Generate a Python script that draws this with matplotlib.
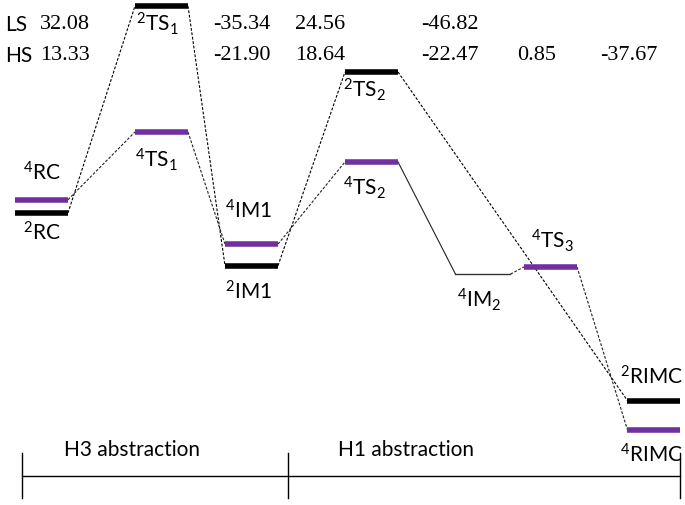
import matplotlib
matplotlib.use("Agg")
import matplotlib.pyplot as plt

plt.rcParams['mathtext.fontset'] = 'custom'
plt.rcParams['mathtext.rm'] = 'Lato'
plt.rcParams['mathtext.it'] = 'Lato'

PURPLE = '#7030a0'

# stage x-centres (diagram units) and energies (relative)
stages = ['RC', 'TS1', 'IM1', 'TS2', 'IM2', 'TS3', 'RIMC']
stage_x = [41.5, 161.5, 251.5, 371.5, 483, 550.5, 654]
half_w = 26.5

# low spin (doublet) levels
ls_stage = ['RC', 'TS1', 'IM1', 'TS2', 'RIMC']
ls_energy = [0.0, 34.5, -8.8, 23.5, -31.3]
# high spin (quartet) levels
hs_stage = ['RC', 'TS1', 'IM1', 'TS2', 'IM2', 'TS3', 'RIMC']
hs_energy = [2.2, 13.5, -5.2, 8.5, -10.2, -9.0, -36.2]

ls_labels = [r'$^{2}$RC', r'$^{2}$TS$_{1}$', r'$^{2}$IM1', r'$^{2}$TS$_{2}$', r'$^{2}$RIMC']
hs_labels = [r'$^{4}$RC', r'$^{4}$TS$_{1}$', r'$^{4}$IM1', r'$^{4}$TS$_{2}$',
             r'$^{4}$IM$_{2}$', r'$^{4}$TS$_{3}$', r'$^{4}$RIMC']
# label offsets (dx in diagram units, dy in energy units)
ls_lab_dx = [0, -4, -3, -7, -2]
ls_lab_dy = [-3.4, -2.9, -4.3, -3.0, 3.9]
hs_lab_dx = [0, -5, -3, -7, -4, 2, -2]
hs_lab_dy = [4.5, -4.6, 5.5, -4.3, -4.3, 4.4, -4.1]

# connections (stage pairs) per spin state
ls_links = [('RC', 'TS1'), ('TS1', 'IM1'), ('IM1', 'TS2'), ('TS2', 'RIMC')]
hs_links = [('RC', 'TS1', '--'), ('TS1', 'IM1', '--'), ('IM1', 'TS2', '--'),
            ('TS2', 'IM2', '-'), ('IM2', 'TS3', '--'), ('TS3', 'RIMC', '--')]

# numbers at top
ls_values = ['32.08', '-35.34', '24.56', '-46.82']
ls_val_x = [40, 213, 295, 421]
hs_values = ['13.33', '-21.90', '18.64', '-22.47', '0.85', '-37.67']
hs_val_x = [40, 213, 295, 421, 517, 600]

sections = ['H3 abstraction', 'H1 abstraction']
section_edges = [22, 288, 680]
section_label_x = [132, 406]

xpos = dict(zip(stages, stage_x))
ls_e = dict(zip(ls_stage, ls_energy))
hs_e = dict(zip(hs_stage, hs_energy))

fig = plt.figure(figsize=(6.85, 5.05), dpi=100)
ax = fig.add_axes([0, 0, 1, 1])
ax.set_xlim(0, 685)
ax.set_ylim(-48.7, 35.5)
ax.axis('off')

def px_to_e(py):
    return 35.5 - py / 6.0

# levels
for s, e, lab, dx, dy in zip(ls_stage, ls_energy, ls_labels, ls_lab_dx, ls_lab_dy):
    x = xpos[s]
    ax.plot([x - half_w, x + half_w], [e, e], color='black', lw=4.0, solid_capstyle='butt', zorder=3)
    ax.text(x + dx, e + dy, lab, ha='center', va='center', fontsize=15, family='Lato')

for s, e, lab, dx, dy in zip(hs_stage, hs_energy, hs_labels, hs_lab_dx, hs_lab_dy):
    x = xpos[s]
    if s == 'IM2':
        ax.plot([x - half_w - 1, x + half_w + 1], [e, e], color='#333333', lw=1.0, zorder=3)
    else:
        ax.plot([x - half_w, x + half_w], [e, e], color=PURPLE, lw=4.0, solid_capstyle='butt', zorder=3)
    ax.text(x + dx, e + dy, lab, ha='center', va='center', fontsize=15, family='Lato')

# connectors
for a, b in ls_links:
    ax.plot([xpos[a] + half_w, xpos[b] - half_w], [ls_e[a], ls_e[b]],
            color='black', lw=0.8, ls=(0, (2.5, 1.5)), zorder=2)
for a, b, st in hs_links:
    style = (0, (2.5, 1.5)) if st == '--' else '-'
    ax.plot([xpos[a] + half_w + (1 if a == 'IM2' else 0), xpos[b] - half_w - (1 if b == 'IM2' else 0)],
            [hs_e[a], hs_e[b]], color='#222222', lw=0.8, ls=style, zorder=2)

# top numbers
ytop_ls = px_to_e(25)
ytop_hs = px_to_e(56)
ax.text(5, ytop_ls, 'LS', ha='left', va='center', fontsize=15, family='Lato')
ax.text(5, ytop_hs, 'HS', ha='left', va='center', fontsize=15, family='Lato')
for v, x in zip(ls_values, ls_val_x):
    ax.text(x, ytop_ls, v, ha='left', va='center', fontsize=16, family='Liberation Serif')
for v, x in zip(hs_values, hs_val_x):
    ax.text(x, ytop_hs, v, ha='left', va='center', fontsize=16, family='Liberation Serif')

# bottom section axis
y_axis = px_to_e(476)
ax.plot([section_edges[0], section_edges[-1]], [y_axis, y_axis], color='black', lw=1.0)
for x in section_edges:
    ax.plot([x, x], [y_axis + 3.8, y_axis - 3.7], color='black', lw=1.0)
for name, xc in zip(sections, section_label_x):
    ax.text(xc, px_to_e(450), name, ha='center', va='center', fontsize=15, family='Lato')

fig.savefig('out.png', dpi=100)
